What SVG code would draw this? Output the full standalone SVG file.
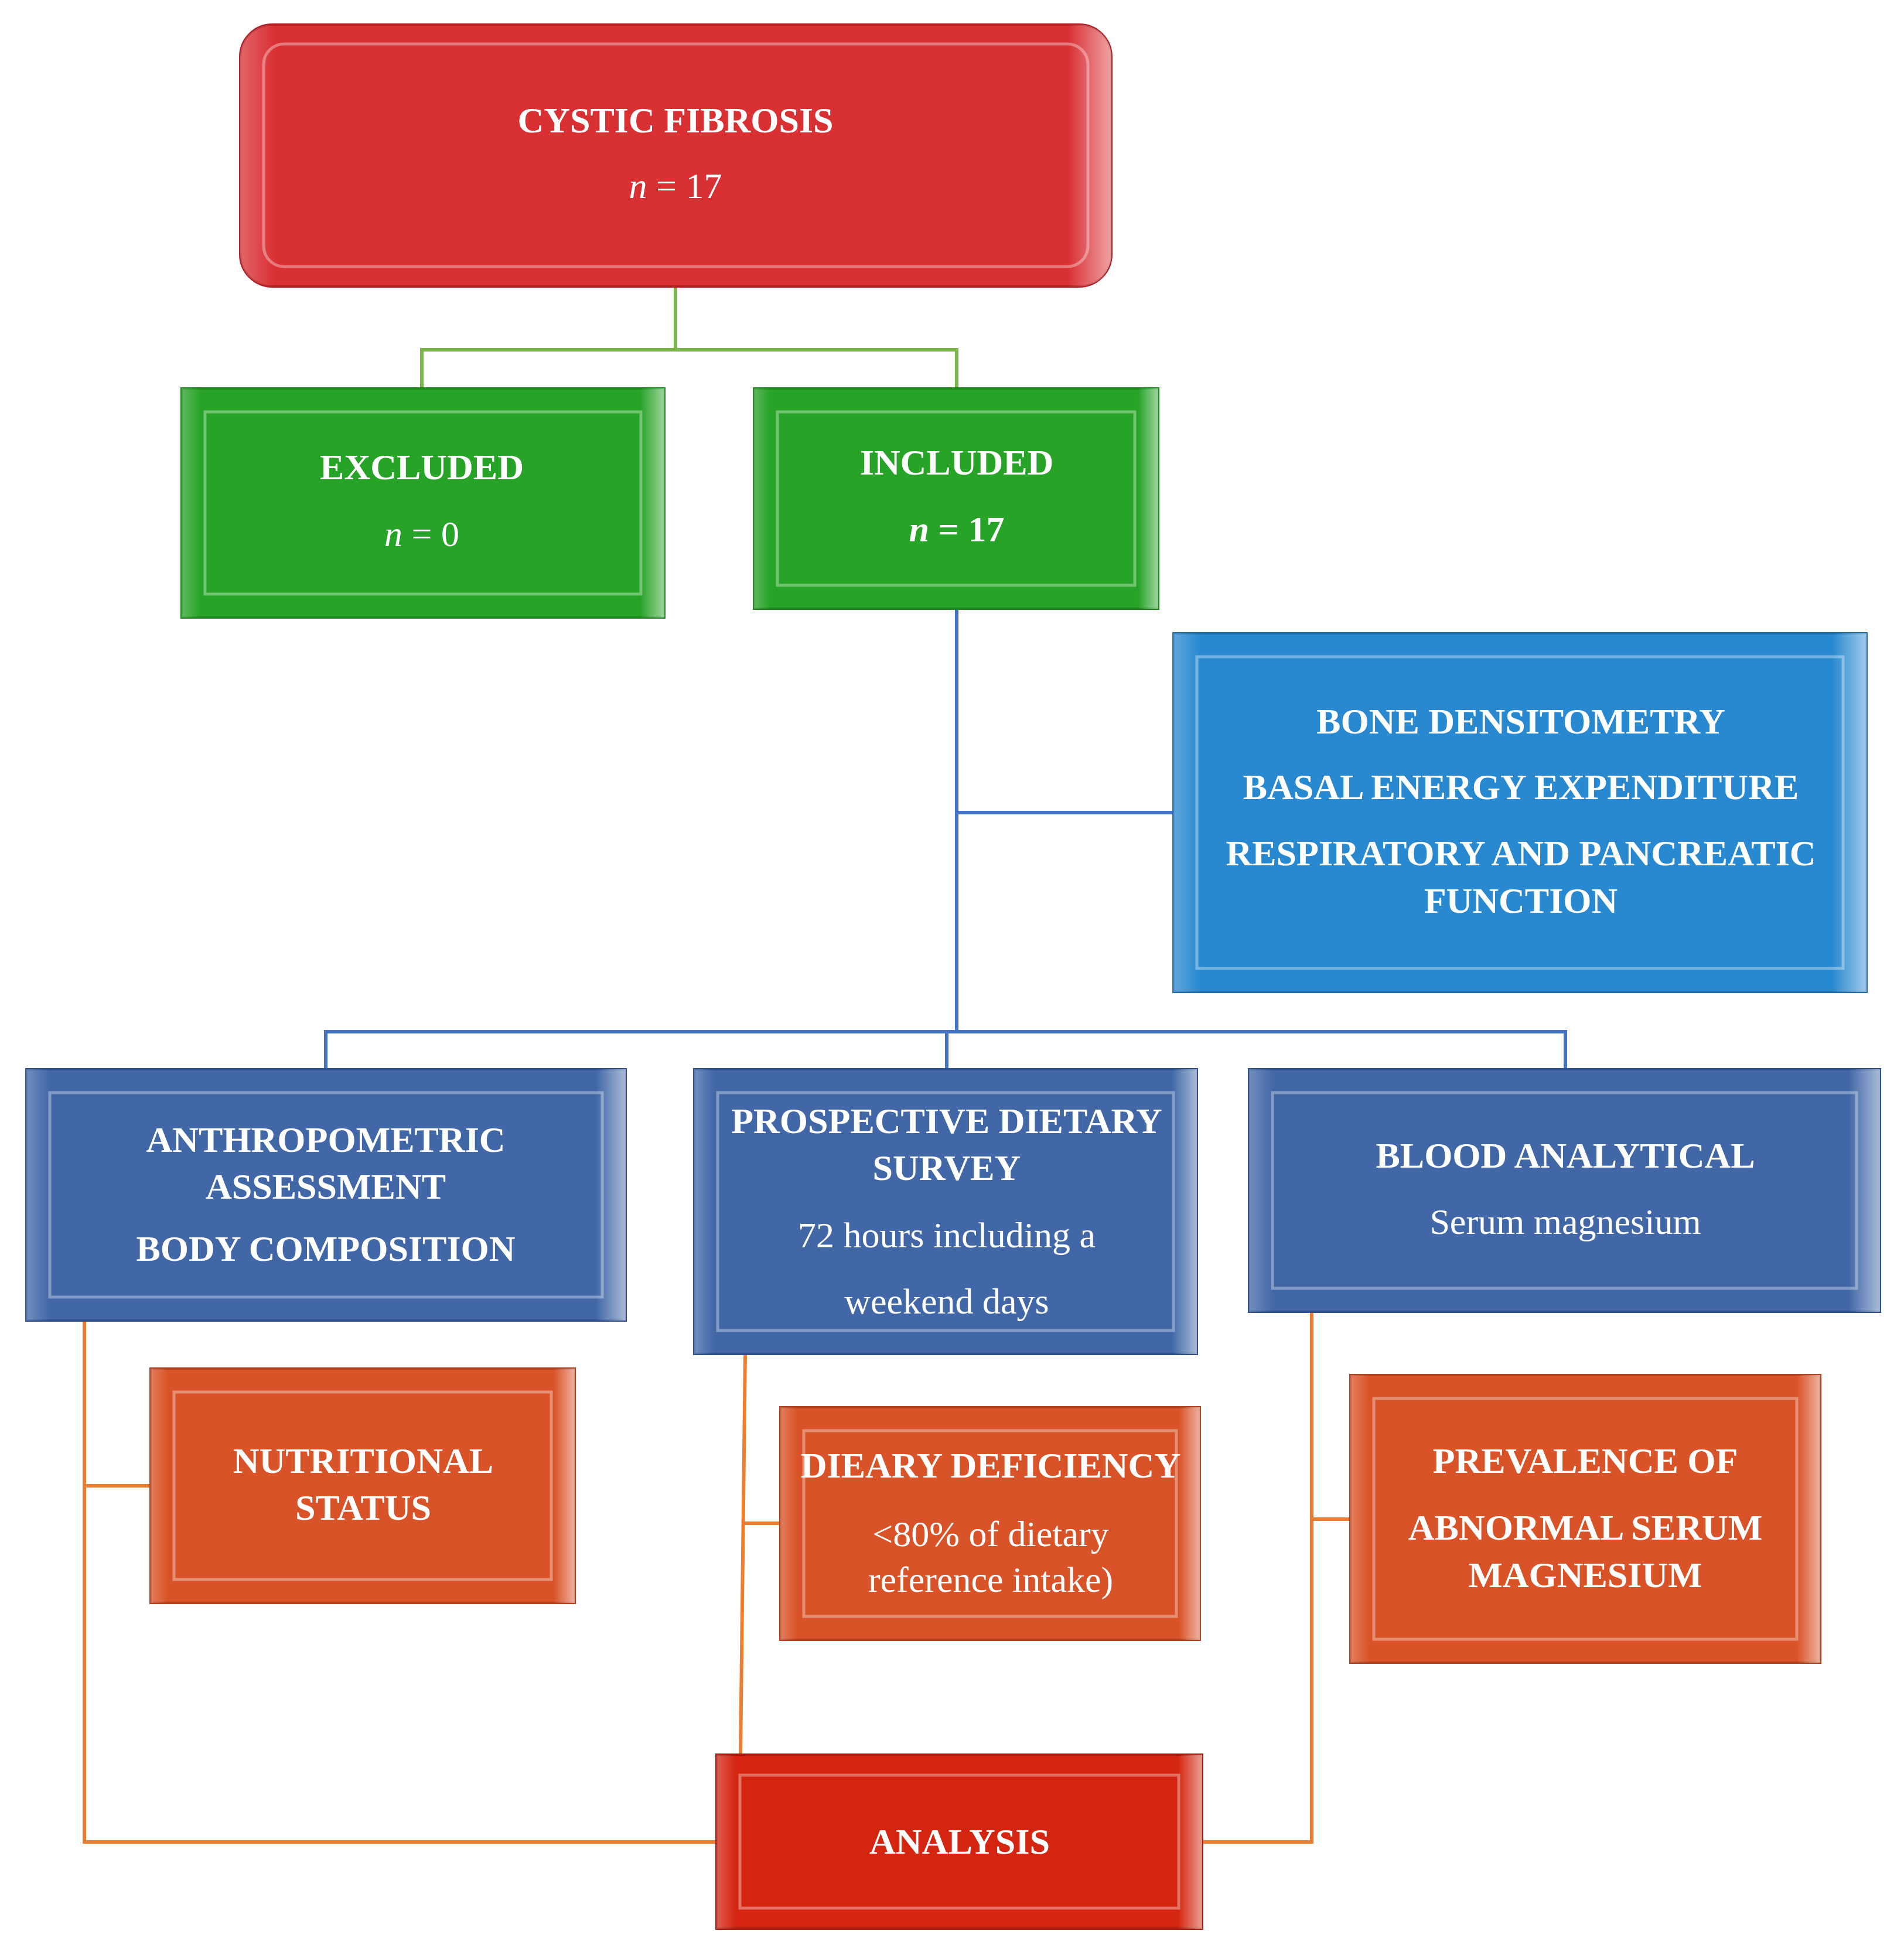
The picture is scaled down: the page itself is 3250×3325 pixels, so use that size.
<svg xmlns="http://www.w3.org/2000/svg" width="3250" height="3325" viewBox="0 0 3250 3325">
<style>
text{font-family:"Liberation Serif",serif;fill:#fff;text-anchor:middle;font-size:62px}
.b{font-weight:bold}
.i{font-style:italic}
.c{fill:none;stroke-width:6}
.g{stroke:#7AB648}.bl{stroke:#4472C4}.o{stroke:#ED7D31}
.bev{fill:none;stroke:#fff;stroke-opacity:0.35;stroke-width:5}
</style>
<defs>
<linearGradient id="hl" x1="0" x2="1"><stop offset="0" stop-color="#fff" stop-opacity="0.25"/><stop offset="0.04" stop-color="#fff" stop-opacity="0"/><stop offset="0.95" stop-color="#fff" stop-opacity="0"/><stop offset="1" stop-color="#fff" stop-opacity="0.55"/></linearGradient>
</defs>
<g id="connectors">
<polyline class="c g" points="1153,489 1153,597 720,597 720,663"/>
<polyline class="c g" points="1153,597 1633,597 1633,663"/>
<polyline class="c bl" points="1633,1039 1633,1761"/>
<line class="c bl" x1="1633" y1="1387" x2="2003" y2="1387"/>
<polyline class="c bl" points="556,1825 556,1761 2672,1761 2672,1825"/>
<line class="c bl" x1="1616" y1="1761" x2="1616" y2="1825"/>
<polyline class="c o" points="144,2254 144,3144 1223,3144"/>
<line class="c o" x1="144" y1="2536" x2="257" y2="2536"/>
<polyline class="c o" points="1272,2311 1264,2995"/>
<line class="c o" x1="1268" y1="2600" x2="1332" y2="2600"/>
<polyline class="c o" points="2239,2239 2239,3144 2052,3144"/>
<line class="c o" x1="2239" y1="2593" x2="2305" y2="2593"/>
</g>
<g id="cf"><rect x="410" y="42" width="1487" height="447" rx="55" fill="#D93034" stroke="#B02025" stroke-width="4"/><rect x="410" y="42" width="1487" height="447" rx="55" fill="url(#hl)"/><rect x="450" y="75" width="1407" height="380" rx="35" class="bev"/>
<text x="1153" y="226" class="b">CYSTIC FIBROSIS</text><text x="1153" y="338"><tspan class="i">n</tspan> = 17</text></g>
<g id="excluded"><rect x="310" y="663" width="824" height="391" fill="#27A327" stroke="#1E8A1E" stroke-width="4"/><rect x="310" y="663" width="824" height="391" fill="url(#hl)"/><rect x="350" y="703" width="744" height="311" class="bev"/>
<text x="720" y="818" class="b">EXCLUDED</text><text x="720" y="932"><tspan class="i">n</tspan> = 0</text></g>
<g id="included"><rect x="1287" y="663" width="690" height="376" fill="#27A327" stroke="#1E8A1E" stroke-width="4"/><rect x="1287" y="663" width="690" height="376" fill="url(#hl)"/><rect x="1327" y="703" width="610" height="296" class="bev"/>
<text x="1633" y="810" class="b">INCLUDED</text><text x="1633" y="924" class="b"><tspan class="i">n</tspan> = 17</text></g>
<g id="bone"><rect x="2003" y="1081" width="1183" height="612" fill="#2889D0" stroke="#1D6FAE" stroke-width="4"/><rect x="2003" y="1081" width="1183" height="612" fill="url(#hl)"/><rect x="2043" y="1121" width="1103" height="532" class="bev"/>
<text x="2596" y="1252" class="b">BONE DENSITOMETRY</text><text x="2596" y="1364" class="b">BASAL ENERGY EXPENDITURE</text><text x="2596" y="1477" class="b">RESPIRATORY AND PANCREATIC</text><text x="2596" y="1558" class="b">FUNCTION</text></g>
<g id="anthro"><rect x="45" y="1825" width="1023" height="429" fill="#4167A7" stroke="#2F5190" stroke-width="4"/><rect x="45" y="1825" width="1023" height="429" fill="url(#hl)"/><rect x="85" y="1865" width="943" height="349" class="bev"/>
<text x="556" y="1966" class="b">ANTHROPOMETRIC</text><text x="556" y="2046" class="b">ASSESSMENT</text><text x="556" y="2152" class="b">BODY COMPOSITION</text></g>
<g id="dietary"><rect x="1185" y="1825" width="858" height="486" fill="#4167A7" stroke="#2F5190" stroke-width="4"/><rect x="1185" y="1825" width="858" height="486" fill="url(#hl)"/><rect x="1225" y="1865" width="778" height="406" class="bev"/>
<text x="1616" y="1934" class="b">PROSPECTIVE DIETARY</text><text x="1616" y="2014" class="b">SURVEY</text><text x="1616" y="2129">72 hours including a</text><text x="1616" y="2242">weekend days</text></g>
<g id="blood"><rect x="2132" y="1825" width="1077" height="414" fill="#4167A7" stroke="#2F5190" stroke-width="4"/><rect x="2132" y="1825" width="1077" height="414" fill="url(#hl)"/><rect x="2172" y="1865" width="997" height="334" class="bev"/>
<text x="2672" y="1993" class="b">BLOOD ANALYTICAL</text><text x="2672" y="2106">Serum magnesium</text></g>
<g id="nutritional"><rect x="257" y="2336" width="724" height="400" fill="#D95328" stroke="#B4421E" stroke-width="4"/><rect x="257" y="2336" width="724" height="400" fill="url(#hl)"/><rect x="297" y="2376" width="644" height="320" class="bev"/>
<text x="620" y="2514" class="b">NUTRITIONAL</text><text x="620" y="2594" class="b">STATUS</text></g>
<g id="deficiency"><rect x="1332" y="2402" width="716" height="397" fill="#D95328" stroke="#B4421E" stroke-width="4"/><rect x="1332" y="2402" width="716" height="397" fill="url(#hl)"/><rect x="1372" y="2442" width="636" height="317" class="bev"/>
<text x="1691" y="2522" class="b">DIEARY DEFICIENCY</text><text x="1691" y="2639">&lt;80% of dietary</text><text x="1691" y="2717">reference intake)</text></g>
<g id="prevalence"><rect x="2305" y="2347" width="802" height="491" fill="#D95328" stroke="#B4421E" stroke-width="4"/><rect x="2305" y="2347" width="802" height="491" fill="url(#hl)"/><rect x="2345" y="2387" width="722" height="411" class="bev"/>
<text x="2706" y="2514" class="b">PREVALENCE OF</text><text x="2706" y="2628" class="b">ABNORMAL SERUM</text><text x="2706" y="2709" class="b">MAGNESIUM</text></g>
<g id="analysis"><rect x="1223" y="2995" width="829" height="297" fill="#D42511" stroke="#A81C0D" stroke-width="4"/><rect x="1223" y="2995" width="829" height="297" fill="url(#hl)"/><rect x="1263" y="3030" width="749" height="227" class="bev"/>
<text x="1638" y="3164" class="b">ANALYSIS</text></g>
</svg>
